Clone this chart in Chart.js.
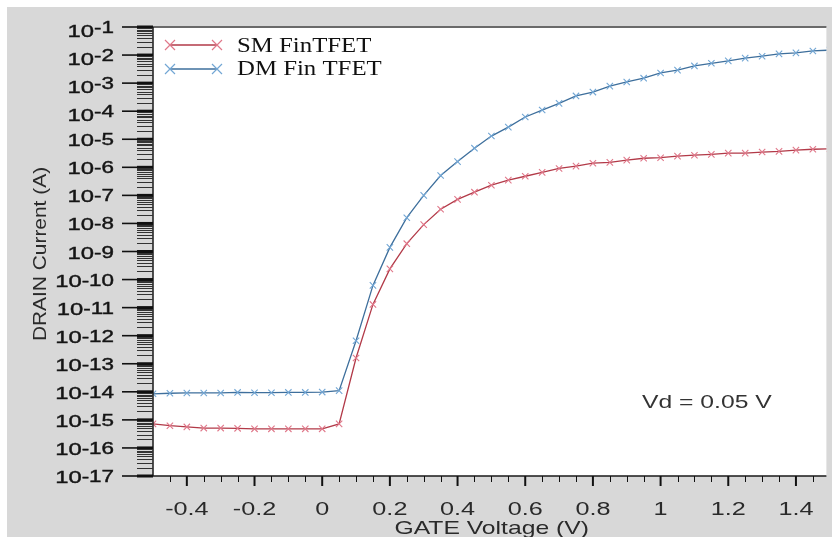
<!DOCTYPE html>
<html>
<head>
<meta charset="utf-8">
<script src="https://cdn.jsdelivr.net/npm/chart.js@4/dist/chart.umd.min.js"></script>
<style>
  html, body { margin: 0; padding: 0; background: #fff; }
  #wrap { width: 832px; height: 537px; }
</style>
</head>
<body>
<div id="wrap"><canvas id="myLine" width="832" height="537"></canvas></div>
<script>
// gate voltage (V), one point every 0.05 V
const gateVoltage = [
  -0.5, -0.45, -0.4, -0.35, -0.3, -0.25, -0.2, -0.15, -0.1, -0.05,
  0, 0.05, 0.1, 0.15, 0.2, 0.25, 0.3, 0.35, 0.4, 0.45,
  0.5, 0.55, 0.6, 0.65, 0.7, 0.75, 0.8, 0.85, 0.9, 0.95,
  1, 1.05, 1.1, 1.15, 1.2, 1.25, 1.3, 1.35, 1.4, 1.45, 1.5
];
// drain current (A)
const smFinTfet = [
  7.2e-16, 6.2e-16, 5.6e-16, 5.1e-16, 5.1e-16, 5.0e-16, 4.8e-16, 4.8e-16, 4.8e-16, 4.8e-16,
  4.8e-16, 7.2e-16, 1.6e-13, 1.3e-11, 2.4e-10, 1.9e-9, 9.1e-9, 3.2e-8, 7.2e-8, 1.3e-7,
  2.3e-7, 3.5e-7, 4.8e-7, 6.6e-7, 9.1e-7, 1.1e-6, 1.4e-6, 1.5e-6, 1.8e-6, 2.1e-6,
  2.2e-6, 2.5e-6, 2.7e-6, 2.9e-6, 3.2e-6, 3.2e-6, 3.5e-6, 3.7e-6, 4.1e-6, 4.4e-6, 4.6e-6
];
const dmFinTfet = [
  8.5e-15, 8.9e-15, 9.1e-15, 9.1e-15, 9.1e-15, 9.5e-15, 9.3e-15, 9.3e-15, 9.5e-15, 9.5e-15,
  9.8e-15, 1.1e-14, 6.6e-13, 6.2e-11, 1.4e-9, 1.6e-8, 1.0e-7, 5.1e-7, 1.6e-6, 4.8e-6,
  1.3e-5, 2.7e-5, 6.2e-5, 1.1e-4, 1.9e-4, 3.5e-4, 4.8e-4, 7.8e-4, 1.1e-3, 1.5e-3,
  2.3e-3, 2.9e-3, 4.1e-3, 5.1e-3, 6.2e-3, 7.8e-3, 9.1e-3, 1.1e-2, 1.2e-2, 1.4e-2, 1.5e-2
];
const xTickLabels = ['-0.4', '-0.2', '0', '0.2', '0.4', '0.6', '0.8', '1', '1.2', '1.4'];
const yTickExponents = [-1, -2, -3, -4, -5, -6, -7, -8, -9, -10, -11, -12, -13, -14, -15, -16, -17];
const seriesLabels = ['SM FinTFET', 'DM Fin TFET'];

const redLine = '#b23a48';
const redMark = '#e0788a';
const blueLine = '#3e6f9c';
const blueMark = '#72a6d4';

function txt(ctx, s, x, y, font, sx, align, color, bold) {
  ctx.save();
  ctx.font = font;
  ctx.fillStyle = color || '#1a1a1a';
  ctx.textBaseline = 'alphabetic';
  ctx.textAlign = 'left';
  const w = ctx.measureText(s).width * sx;
  let x0 = x;
  if (align === 'center') x0 = x - w / 2;
  if (align === 'right') x0 = x - w;
  ctx.translate(x0, y);
  ctx.scale(sx, 1);
  ctx.fillText(s, 0, 0);
  if (bold) {
    ctx.strokeStyle = color || '#1a1a1a';
    ctx.lineWidth = bold;
    ctx.strokeText(s, 0, 0);
  }
  ctx.restore();
  return w;
}

function cross(ctx, x, y, r, color) {
  ctx.save();
  ctx.strokeStyle = color;
  ctx.lineWidth = 1.2;
  ctx.beginPath();
  ctx.moveTo(x - r, y - r); ctx.lineTo(x + r, y + r);
  ctx.moveTo(x - r, y + r); ctx.lineTo(x + r, y - r);
  ctx.stroke();
  ctx.restore();
}

const frame = {
  id: 'frame',
  beforeDraw(chart) {
    const ctx = chart.ctx;
    const a = chart.chartArea;
    ctx.save();
    ctx.fillStyle = '#ffffff';
    ctx.fillRect(0, 0, chart.width, chart.height);
    ctx.fillStyle = '#d8d8d8';
    ctx.fillRect(7, 7, chart.width - 7, chart.height - 7);
    ctx.fillStyle = '#ffffff';
    ctx.fillRect(a.left, a.top, a.right - a.left, a.bottom - a.top);
    ctx.restore();
  },
  afterDraw(chart) {
    const ctx = chart.ctx;
    const a = chart.chartArea;
    const xs = chart.scales.x;
    const ys = chart.scales.y;
    ctx.save();
    // top border
    ctx.strokeStyle = '#6a6a6a';
    ctx.lineWidth = 2;
    ctx.beginPath();
    ctx.moveTo(a.left, a.top); ctx.lineTo(a.right, a.top);
    ctx.stroke();
    // axes
    ctx.strokeStyle = '#1a1a1a';
    ctx.lineWidth = 1.5;
    ctx.beginPath();
    ctx.moveTo(a.left, a.top); ctx.lineTo(a.left, a.bottom);
    ctx.moveTo(a.left, a.bottom); ctx.lineTo(a.right, a.bottom);
    ctx.stroke();

    // y ticks, major + minor per decade
    for (const e of yTickExponents) {
      const y = ys.getPixelForValue(Math.pow(10, e));
      ctx.strokeStyle = '#111';
      ctx.lineWidth = 1.6;
      ctx.beginPath();
      ctx.moveTo(a.left - 31, y); ctx.lineTo(a.left, y);
      ctx.stroke();
      ctx.lineWidth = 3;
      ctx.beginPath();
      ctx.moveTo(a.left - 16, y); ctx.lineTo(a.left, y);
      ctx.stroke();
      if (e > -17) {
        ctx.lineWidth = 1;
        ctx.strokeStyle = '#333';
        for (let m = 2; m <= 9; m++) {
          const ym = Math.round(ys.getPixelForValue(m * Math.pow(10, e - 1))) + 0.5;
          ctx.beginPath();
          ctx.moveTo(a.left - 16, ym); ctx.lineTo(a.left, ym);
          ctx.stroke();
        }
      }
      const raise = e >= -4 ? 4 : 1;
      const off = e >= -4 ? 4 : 1;
      const ew = txt(ctx, String(e), 114, y + off + 6 - raise, '16px "Liberation Sans"', 1.4, 'right', '#151515', 0.4);
      txt(ctx, '10', 114 - ew, y + off + 6, '17px "Liberation Sans"', 1.4, 'right', '#151515', 0.4);
    }

    // x ticks: major every 0.2, minor every 0.05
    ctx.strokeStyle = '#111';
    for (let i = 0; i < xTickLabels.length; i++) {
      const v = parseFloat(xTickLabels[i]);
      const x = xs.getPixelForValue(v);
      ctx.lineWidth = 2;
      ctx.beginPath();
      ctx.moveTo(x, a.bottom); ctx.lineTo(x, a.bottom + 10);
      ctx.stroke();
      txt(ctx, xTickLabels[i], x, 515, '18px "Liberation Sans"', 1.4, 'center', '#2a2a2a');
    }
    ctx.lineWidth = 1;
    for (const v of gateVoltage) {
      if (Math.abs(v * 5 - Math.round(v * 5)) < 1e-6) continue;
      const x = Math.round(xs.getPixelForValue(v)) + 0.5;
      if (x <= a.left + 1 || x > a.right) continue;
      ctx.beginPath();
      ctx.moveTo(x, a.bottom); ctx.lineTo(x, a.bottom + 6);
      ctx.stroke();
    }

    // axis titles
    txt(ctx, 'GATE Voltage (V)', (a.left + a.right) / 2 + 2, 534, '19px "Liberation Sans"', 1.3, 'center', '#2a2a2a');
    ctx.save();
    ctx.translate(46, 254);
    ctx.rotate(-Math.PI / 2);
    txt(ctx, 'DRAIN Current (A)', 0, 0, '19px "Liberation Sans"', 1.1, 'center', '#2a2a2a');
    ctx.restore();

    // legend
    const legend = [[45, 52, redLine, redMark], [69, 75, blueLine, blueMark]];
    legend.forEach((l, i) => {
      ctx.strokeStyle = l[2];
      ctx.lineWidth = 1.3;
      ctx.beginPath();
      ctx.moveTo(170, l[0]); ctx.lineTo(217, l[0]);
      ctx.stroke();
      cross(ctx, 170, l[0], 5, l[3]);
      cross(ctx, 217, l[0], 5, l[3]);
      txt(ctx, seriesLabels[i], 237, l[1], '20px "Liberation Serif"', 1.24, 'left', '#111');
    });

    // bias note
    txt(ctx, 'Vd = 0.05 V', 642, 408, '19px "Liberation Sans"', 1.3, 'left', '#333');
    ctx.restore();
  }
};

const lineCtx = document.getElementById('myLine').getContext('2d');
new Chart(lineCtx, {
  type: 'line',
  data: {
    datasets: [
      {
        label: seriesLabels[0],
        data: gateVoltage.map((v, i) => ({ x: v, y: smFinTfet[i] })),
        borderColor: redLine,
        borderWidth: 1.3,
        pointStyle: 'crossRot',
        pointRadius: 4.5,
        pointBorderWidth: 1.1,
        pointBorderColor: redMark,
        lineTension: 0
      },
      {
        label: seriesLabels[1],
        data: gateVoltage.map((v, i) => ({ x: v, y: dmFinTfet[i] })),
        borderColor: blueLine,
        borderWidth: 1.3,
        pointStyle: 'crossRot',
        pointRadius: 4.5,
        pointBorderWidth: 1.1,
        pointBorderColor: blueMark,
        lineTension: 0
      }
    ]
  },
  options: {
    responsive: false,
    animation: false,
    layout: { padding: { top: 27, left: 0, right: 0, bottom: 0 } },
    plugins: { legend: { display: false }, tooltip: { enabled: false } },
    scales: {
      x: {
        type: 'linear',
        min: -0.5,
        max: 1.49,
        grid: { display: false },
        border: { display: false },
        ticks: { display: false },
        afterFit: s => { s.height = 61; }
      },
      y: {
        type: 'logarithmic',
        min: 1e-17,
        max: 1e-1,
        grid: { display: false },
        border: { display: false },
        ticks: { display: false },
        afterFit: s => { s.width = 153; }
      }
    }
  },
  plugins: [frame]
});
</script>
</body>
</html>
